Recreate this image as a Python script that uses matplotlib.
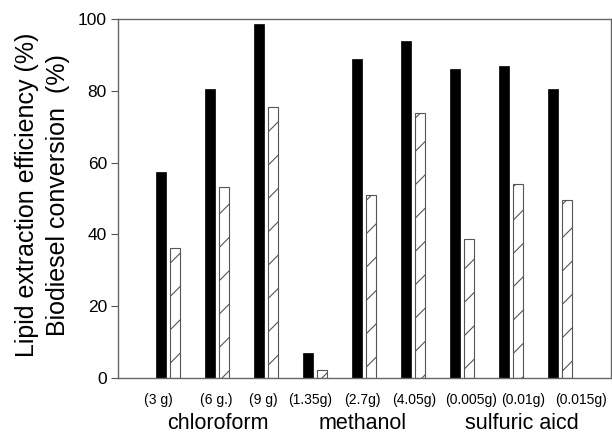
import numpy as np
import matplotlib.pyplot as plt

plt.rcParams['font.family'] = ['Liberation Sans', 'DejaVu Sans']
plt.rcParams['hatch.linewidth'] = 0.8

doses = ['(3 g)', '(6 g.)', '(9 g)', '(1.35g)', '(2.7g)', '(4.05g)',
         '(0.005g)', '(0.01g)', '(0.015g)']
lipid_eff = [57.3, 80.4, 98.5, 6.9, 88.8, 93.8, 86.0, 86.8, 80.6]
biodiesel_conv = [36.3, 53.1, 75.4, 2.1, 51.1, 73.7, 38.6, 54.1, 49.6]
groups = ['chloroform', 'methanol', 'sulfuric aicd']

x = np.arange(len(doses))
w = 0.2
# label placement (axis units), labels are not exactly under the bars
label_shift = np.array([-0.2, -0.02, -0.06, -0.1, -0.03, 0.02, 0.18, 0.24, 0.43])
group_pos = [1.01, 3.97, 7.22]

fig = plt.figure(figsize=(6.12, 4.43), dpi=100)
ax = fig.add_axes([118 / 612, 1 - 378 / 443, (611 - 118) / 612, (378 - 19) / 443])

ax.bar(x - 0.145, lipid_eff, w, color='black', edgecolor='black', linewidth=0.5)
ax.bar(x + 0.145, biodiesel_conv, w, color='white', edgecolor='#555555',
       hatch='/', linewidth=0.8)

ax.set_xlim(-1.02, 9.04)
ax.set_ylim(0, 100)
ax.set_yticks([0, 20, 40, 60, 80, 100])
ax.set_xticks(x + label_shift)
ax.set_xticklabels(doses, fontsize=10)
ax.tick_params(axis='x', length=0, pad=11)
ax.tick_params(axis='y', length=5, width=0.8, color='#555555', labelsize=12.5, pad=3)
for s in ax.spines.values():
    s.set_color('#666666')
    s.set_linewidth(1.0)

for g, p in zip(groups, group_pos):
    ax.text(p, -12.8, g, ha='center', va='center', fontsize=15.5,
            transform=ax.transData)

ax.set_ylabel('Lipid extraction efficiency (%)\nBiodiesel conversion  (%)',
              fontsize=18, linespacing=1.35)
ax.yaxis.set_label_coords(-0.098, 0.51)

fig.savefig('out.png', dpi=100)
